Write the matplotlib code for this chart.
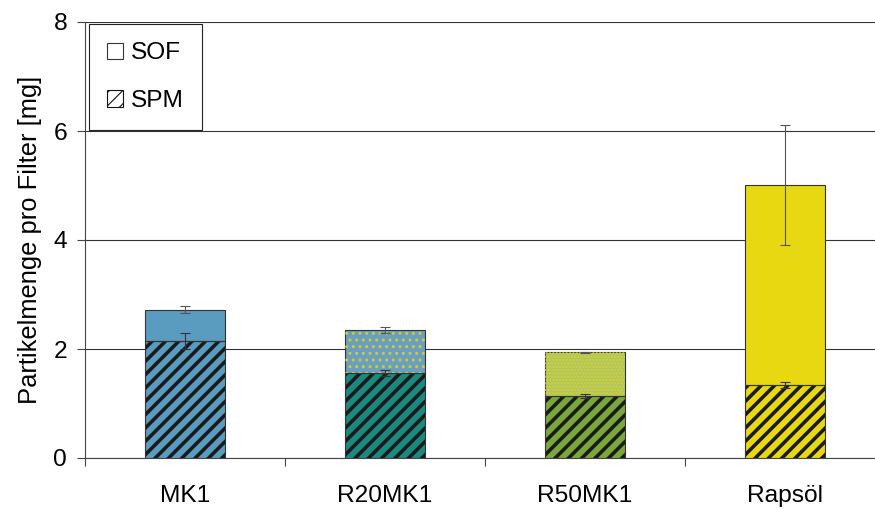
import matplotlib.pyplot as plt
import matplotlib.patches as mpatches
import numpy as np

plt.rcParams['font.family'] = ['Liberation Sans', 'DejaVu Sans']

# data (mg per filter)
fuels = ['MK1', 'R20MK1', 'R50MK1', 'Rapsöl']
spm = [2.15, 1.56, 1.14, 1.34]
spm_err = [0.15, 0.05, 0.04, 0.05]
sof = [0.57, 0.79, 0.80, 3.67]
total_err = [0.06, 0.05, 0.01, 1.10]

spm_colors = ['#5a9bc0', '#1a8a80', '#78a83a', '#e8d812']
sof_colors = ['#5a9bc0', '#6a9fc0', '#aec65a', '#e8d812']
sof_dots = [None, '#d0cc30', '#d8d040', None]
dot_hatch = [None, '..', '....', None]

fig = plt.figure(figsize=(875 / 80, 509 / 80), dpi=80)
ax = fig.add_axes([85 / 875, 51 / 509, 800 / 875, 436 / 509])

x = np.arange(len(fuels))
w = 0.4
edge = '#333333'

# SPM, hatched
with plt.rc_context({'hatch.linewidth': 3.2}):
    ax.bar(x, spm, w, color=spm_colors, edgecolor='#1a1a1a', hatch='//',
           linewidth=0, zorder=3)
ax.bar(x, spm, w, color='none', edgecolor=edge, linewidth=1.0, zorder=4)

# SOF on top
ax.bar(x, sof, w, bottom=spm, color=sof_colors, edgecolor=edge,
       linewidth=1.0, zorder=3)
with plt.rc_context({'hatch.linewidth': 1.5}):
    for i in range(len(fuels)):
        if sof_dots[i]:
            ax.bar(x[i], sof[i], w, bottom=spm[i], color='none',
                   edgecolor=sof_dots[i], hatch=dot_hatch[i], linewidth=0,
                   zorder=4)

# error bars
tot = np.array(spm) + np.array(sof)
ax.errorbar(x, spm, yerr=spm_err, fmt='none', ecolor='#333333',
            elinewidth=1.0, capsize=4.5, capthick=1.0, zorder=5)
ax.errorbar(x, tot, yerr=total_err, fmt='none', ecolor='#555555',
            elinewidth=1.0, capsize=4.5, capthick=1.0, zorder=5)

ax.set_xlim(-0.5, 3.5)
ax.set_ylim(0, 8)
ax.set_yticks([0, 2, 4, 6, 8])
ax.set_xticks(x)
ax.set_xticklabels(fuels, fontsize=22)
ax.tick_params(axis='x', length=0, pad=24)
ax.set_xticks(np.arange(-0.5, 4, 1), minor=True)
ax.tick_params(axis='x', which='minor', length=7, width=1, color='#444444',
               direction='out')
ax.tick_params(axis='y', labelsize=22, length=7, width=1, color='#444444',
               pad=9)
ax.yaxis.grid(True, color='#333333', linewidth=1.0, zorder=0)
ax.set_axisbelow(True)
ax.set_ylabel('Partikelmenge pro Filter [mg]', fontsize=23, labelpad=10)

for s in ['top', 'right']:
    ax.spines[s].set_visible(False)
for s in ['left', 'bottom']:
    ax.spines[s].set_color('#444444')
    ax.spines[s].set_linewidth(1.0)

# legend
h_sof = mpatches.Patch(facecolor='white', edgecolor='#333333', linewidth=1.0)
with plt.rc_context({'hatch.linewidth': 3.0}):
    h_spm = mpatches.Patch(facecolor='white', edgecolor='#111111', hatch='//',
                           linewidth=1.0)
leg = ax.legend([h_sof, h_spm], ['SOF', 'SPM'], loc='upper left',
                bbox_to_anchor=(4 / 800, 1 - 2 / 436), fontsize=22,
                fancybox=False, edgecolor='#222222', framealpha=1,
                handlelength=0.65, handleheight=0.65, handletextpad=0.3,
                labelspacing=1.05, borderpad=0.75, borderaxespad=0)
leg.get_frame().set_linewidth(1.0)

plt.savefig('out.png', dpi=80)
